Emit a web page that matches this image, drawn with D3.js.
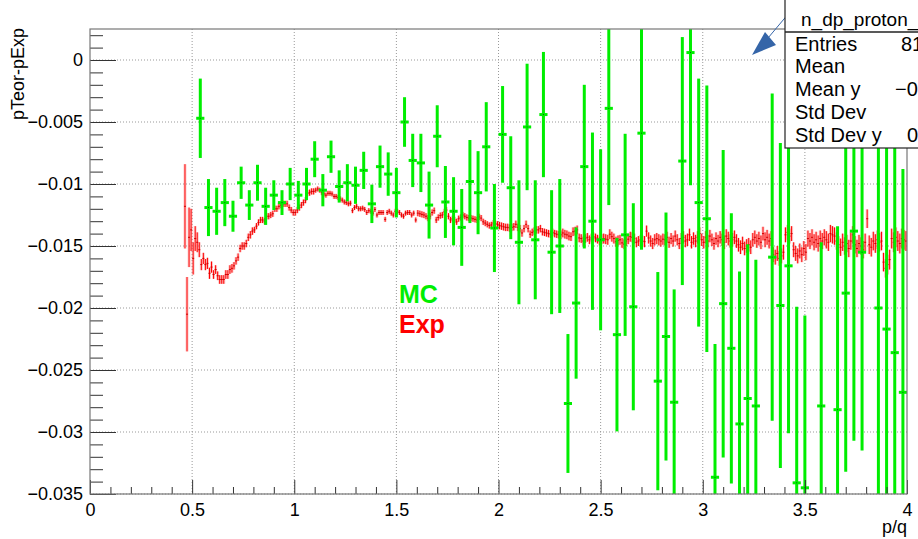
<!DOCTYPE html>
<html>
<head>
<meta charset="utf-8">
<script src="https://cdn.jsdelivr.net/npm/d3@7"></script>
<style>
  body { margin: 0; background: #fff; }
  svg { display: block; font-family: "Liberation Sans", Arial, Helvetica, sans-serif; }
</style>
</head>
<body>
<div id="graf"></div>
<script>
// ---- datos (valores en unidades de 1e-3) ----
const xTicks = [0, 0.5, 1, 1.5, 2, 2.5, 3, 3.5, 4]
const yTicks = [0, -0.005, -0.01, -0.015, -0.02, -0.025, -0.03, -0.035]

// MC: bins de 0.04 empezando en 0.54
const mcFirst = 0.54
const mcBin = 0.04
const mcVal = [
  -4.7, -11.9, -12.2, -11.5, -12.6, -9.9, -11.7, -9.9, -11.8, -10.9,
  -11.5, -10.0, -10.9, -10.0, -8.0, -10.5, -7.8, -10.2, -9.9, -10.1,
  -8.9, -11.6, -8.6, -9.2, -10.7, -5.0, -8.1, -8.3, -11.7, -6.15,
  -11.45, -12.2, -13.5, -9.8, -10.7, -7.0, -13.55, -6.0, -10.3, -14.7,
  -5.4, -14.5, -4.4, -15.5, -15.0, -27.7, -19.6, -8.6, -13.0, -14.5,
  -3.9, -22.15, -14.1, -19.9, -5.9, null, -25.9, -22.3, -27.6, -8.15,
  0.6, -11.5, -12.8, -33.65, -19.65, -23.25, -29.35, -27.3, -27.9, null,
  -15.9, -19.8, -16.6, -34.1, -34.5, null, -27.9, null, -28.2, -18.8,
  -13.8, -15.5, null, -20.0, -21.7, -23.6, -26.8
]
const mcErr = [
  3.2, 2.3, 1.9, 1.9, 1.25, 1.3, 1.2, 1.45, 1.5, 1.2,
  1.0, 1.3, 1.15, 1.3, 1.45, 1.3, 1.3, 1.3, 1.5, 1.5,
  1.5, 1.55, 1.7, 1.75, 2.0, 2.0, 2.15, 2.35, 2.7, 2.5,
  2.9, 2.75, 3.1, 3.35, 3.35, 3.6, 3.55, 3.9, 4.15, 5.0,
  5.1, 4.8, 5.05, 5.0, 5.4, 5.6, 6.1, 6.6, 7.15, 7.3,
  7.8, 7.8, 8.15, 8.35, 9.4, 0, 8.8, 10.0, 9.1, 10.0,
  10.7, 10.0, 10.75, 10.75, 12.4, 10.9, 12.3, 12.45, 11.8, 0,
  13.2, 13.1, 13.5, 14.2, 13.9, 0, 13.2, 0, 14.8, 14.4,
  16.9, 16.0, 0, 17.0, 17.5, 18.0, 18.0
]

// Exp: bins de 0.01 empezando en 0.465
const expFirst = 0.465
const expBin = 0.01
const expVal = [
  -11.8, -20.5, -14.3, -13.7, -16.0, -14.4, -14.7, -15.3, -16.5, -16.0,
  -16.5, -16.4, -17.2, -16.7, -17.3, -16.9, -17.4, -17.7, -17.7, -17.7,
  -17.3, -17.3, -16.9, -16.8, -16.6, -16.2, -15.9, -15.2, -15.0, -15.0,
  -14.8, -14.3, -14.1, -13.8, -13.7, -13.4, -13.1, -12.9, -12.9, -13.0,
  -12.6, -12.6, -12.5, -12.4, -12.0, -12.0, -11.8, -11.7, -11.6, -11.6,
  -11.6, -11.9, -12.1, -12.3, -12.3, -12.1, -11.9, -11.7, -11.5, -11.3,
  -10.75, -10.7, -10.6, -10.6, -10.5, -10.4, -10.5, -10.7, -10.8, -10.9,
  -10.75, -10.75, -10.8, -11.0, -11.0, -11.1, -11.2, -11.3, -11.45, -11.5,
  -11.6, -11.55, -12.15, -11.9, -11.8, -12.0, -12.0, -11.95, -12.05, -12.3,
  -12.15, -12.2, -12.35, -12.05, -12.5, -12.3, -12.3, -12.3, -12.85, -12.3,
  -12.2, -12.35, -12.5, -12.2, -12.2, -12.3, -12.5, -12.6, -12.35, -12.3,
  -12.3, -12.5, -12.35, -12.9, -12.35, -12.4, -12.45, -12.5, -12.6, -12.75,
  -12.6, -12.3, -12.15, -12.9, -12.7, -12.55, -12.5, -12.25, -12.1, -12.6,
  -12.9, -12.8, -12.9, -13.05, -12.8, -12.7, -12.5, -12.6, -12.7, -12.75,
  -12.75, -12.8, -12.85, -12.9, -12.65, -12.75, -13.05, -13.15, -13.25, -13.35,
  -13.3, -13.15, -13.2, -13.25, -13.35, -13.4, -13.45, -13.5, -13.5, -13.55,
  -13.5, -13.45, -13.25, -13.5, -13.6, -13.95, -13.6, -13.25, -13.6, -14.05,
  -13.9, -13.8, -13.7, -13.7, -13.6, -13.85, -13.9, -13.95, -14.0, -14.05,
  -13.9, -14.0, -14.05, -14.1, -14.1, -13.95, -14.05, -14.1, -14.2, -14.25,
  -13.85, -13.8, -13.7, -14.35, -14.4, -14.6, -14.4, -14.3, -14.5, -14.35,
  -14.25, -14.35, -14.45, -14.6, -14.45, -14.4, -14.45, -14.5, -14.05, -14.25,
  -14.4, -14.65, -14.55, -14.5, -14.75, -14.85, -14.6, -14.45, -14.25, -14.3,
  -14.4, -14.7, -14.6, -14.5, -14.6, -14.65, -13.8, -14.35, -14.6, -14.8,
  -14.5, -14.4, -14.5, -14.6, -14.45,
  -14.5, -14.3, -14.7, -14.4, -14.6, -14.2, -14.5, -14.8, -14.4, -14.3,
  -14.6, -14.5, -14.1, -14.7, -14.4, -14.6, -14.3,
  -14.0, -14.5, -14.7, -14.3, -14.6, -14.2, -14.5, -14.8, -14.4, -14.6,
  -14.3, -14.5, -14.7, -14.2, -14.4, -14.6, -14.5, -14.3, -14.6,
  -14.9, -15.1, -14.8, -15.2, -15.0, -14.9, -15.1,
  -14.5, -14.3, -14.6, -14.4, -14.7, -14.0, -14.5, -14.3, -14.6, -14.4,
  -15.7, -15.9, -15.6, -16.0, -15.8, -15.5,
  -14.1, -13.9, -14.2, -14.0,
  -15.3, -15.6, -15.8, -15.4, -15.7, -15.2, -15.5,
  -14.4, -14.6, -14.3, -14.7, -14.5, -14.8, -14.4, -14.6, -14.3, -14.5, -14.7,
  -14.0, -14.1, -14.2,
  -14.6, -14.9, -15.1, -14.7, -15.0, -14.8, -15.2, -14.6,
  -14.1,
  -14.9, -15.2, -14.8, -15.0, -15.3, -14.7,
  -12.8,
  -14.9, -15.1, -14.6, -14.8, -14.5, -14.7, -14.6,
  -16.3, -16.8, -16.5, -16.1,
  -14.4, -14.7, -14.3, -14.6, -14.8, -14.4, -14.5, -14.6
]
// errores: primeros bins leidos uno a uno, luego por tramos de 0.1 desde 0.4
const expErrHead = [3.4, 3.0, 2.4, 1.7, 1.3, 1.0, 0.8, 0.6]
const expErrBand = [
  0.6, 0.45, 0.35, 0.3, 0.25, 0.25, 0.25, 0.2, 0.2, 0.2,
  0.2, 0.2, 0.25, 0.25, 0.25, 0.25, 0.3, 0.3, 0.3, 0.35,
  0.35, 0.4, 0.4, 0.45, 0.45, 0.5, 0.5, 0.55, 0.55, 0.6,
  0.6, 0.65, 0.7, 0.7, 0.75, 0.8
]

const statLabels = ["Entries", "Mean", "Mean y", "Std Dev", "Std Dev y"]
const statValues = ["81", "", "\u22120", "", "0"]
const statValueX = [901, 0, 895, 0, 907]

// ---- tamanos ----
const anchoTotal = 918
const altoTotal = 539
const margins = { top: 29, right: 11, bottom: 45, left: 90 }
const ancho = anchoTotal - margins.left - margins.right
const alto = altoTotal - margins.top - margins.bottom

const svg = d3.select("#graf")
  .append("svg")
  .attr("width", anchoTotal)
  .attr("height", altoTotal)

const g = svg.append("g")
  .attr("transform", `translate(${margins.left}, ${margins.top})`)

const x = d3.scaleLinear().domain([0, 4]).range([0, ancho])
const y = d3.scaleLinear().domain([-0.035, 0.0025]).range([alto, 0])

svg.append("defs").append("clipPath").attr("id", "frame")
  .append("rect").attr("width", ancho).attr("height", alto)

// grid punteado
g.append("g").selectAll("line").data(xTicks.slice(1, -1)).join("line")
  .attr("x1", d => x(d)).attr("x2", d => x(d))
  .attr("y1", 0).attr("y2", alto)
  .attr("stroke", "#999").attr("stroke-dasharray", "1,2")
g.append("g").selectAll("line").data(yTicks).join("line")
  .attr("x1", 0).attr("x2", ancho)
  .attr("y1", d => y(d)).attr("y2", d => y(d))
  .attr("stroke", "#999").attr("stroke-dasharray", "1,2")

const plot = g.append("g").attr("clip-path", "url(#frame)")

// Exp (rojo)
const exp = expVal.map((v, i) => {
  const px = expFirst + i * expBin
  const e = i < expErrHead.length ? expErrHead[i] : expErrBand[Math.floor(px * 10 + 1e-9) - 4]
  return { x: px, v: v / 1000, e: e / 1000 }
})
const expG = plot.append("g")
expG.selectAll("line.halo").data(exp).join("line")
  .attr("class", "halo")
  .attr("x1", d => x(d.x)).attr("x2", d => x(d.x))
  .attr("y1", d => y(d.v + d.e)).attr("y2", d => y(d.v - d.e))
  .attr("stroke", "rgba(245,110,110,0.35)").attr("stroke-width", 3)
expG.selectAll("line.err").data(exp).join("line")
  .attr("class", "err")
  .attr("x1", d => x(d.x)).attr("x2", d => x(d.x))
  .attr("y1", d => y(d.v + d.e)).attr("y2", d => y(d.v - d.e))
  .attr("stroke", "#ff0000").attr("stroke-width", 1)
expG.selectAll("line.bin").data(exp).join("line")
  .attr("class", "bin")
  .attr("x1", d => x(d.x - expBin / 2)).attr("x2", d => x(d.x + expBin / 2))
  .attr("y1", d => y(d.v)).attr("y2", d => y(d.v))
  .attr("stroke", "#d00000").attr("stroke-width", 1)

// MC (verde)
const mc = mcVal
  .map((v, i) => ({ x: mcFirst + i * mcBin, v: v === null ? null : v / 1000, e: mcErr[i] / 1000 }))
  .filter(d => d.v !== null)
const mcG = plot.append("g")
mcG.selectAll("line.err").data(mc).join("line")
  .attr("class", "err")
  .attr("x1", d => x(d.x)).attr("x2", d => x(d.x))
  .attr("y1", d => y(d.v + d.e)).attr("y2", d => y(d.v - d.e))
  .attr("stroke", "#00ee00").attr("stroke-width", 3)
mcG.selectAll("line.bin").data(mc).join("line")
  .attr("class", "bin")
  .attr("x1", d => x(d.x - mcBin / 2)).attr("x2", d => x(d.x + mcBin / 2))
  .attr("y1", d => y(d.v)).attr("y2", d => y(d.v))
  .attr("stroke", "#00ee00").attr("stroke-width", 3)
mcG.selectAll("rect").data(mc).join("rect")
  .attr("x", d => x(d.x) - 0.5).attr("y", d => y(d.v) - 0.5)
  .attr("width", 1).attr("height", 1).attr("fill", "#006600")

// ejes (ticks hacia dentro, estilo ROOT)
const fmt = d3.format("~g")
const xMinor = d3.range(0, 41).map(i => i / 10).filter(d => !xTicks.some(t => Math.abs(t - d) < 1e-9))
const yMinor = d3.range(-35, 3).map(i => i / 1000).filter(d => !yTicks.some(t => Math.abs(t - d) < 1e-9))

const xAxisGroup = g.append("g")
  .attr("transform", `translate(0, ${alto})`)
  .call(d3.axisBottom(x).tickValues(xTicks).tickFormat(fmt).tickSize(-14).tickPadding(9))
g.append("g")
  .attr("transform", `translate(0, ${alto})`)
  .call(d3.axisBottom(x).tickValues(xMinor).tickFormat("").tickSize(-7))
const yAxisGroup = g.append("g")
  .call(d3.axisLeft(y).tickValues(yTicks).tickFormat(fmt).tickSize(-26).tickPadding(7))
g.append("g")
  .call(d3.axisLeft(y).tickValues(yMinor).tickFormat("").tickSize(-13))

g.selectAll(".domain").remove()
g.selectAll(".tick line").attr("stroke", "#333")
g.selectAll(".tick text")
  .attr("font-family", "'Liberation Sans', Arial, Helvetica, sans-serif")
  .attr("font-size", 18).attr("fill", "#000")

// marco
g.append("rect")
  .attr("width", ancho).attr("height", alto)
  .attr("fill", "none").attr("stroke", "#777").attr("stroke-width", 1.2)

// titulos de ejes
svg.append("text")
  .attr("transform", `translate(24, 28) rotate(-90)`)
  .attr("text-anchor", "end")
  .attr("font-size", 18)
  .text("pTeor-pExp")
svg.append("text")
  .attr("x", margins.left + ancho).attr("y", 533)
  .attr("text-anchor", "end")
  .attr("font-size", 18)
  .text("p/q")

// leyenda
svg.append("text").attr("x", 399).attr("y", 303)
  .attr("font-size", 25).attr("font-weight", "bold").attr("fill", "#00ee00").text("MC")
svg.append("text").attr("x", 399).attr("y", 333)
  .attr("font-size", 25).attr("font-weight", "bold").attr("fill", "#ff0000").text("Exp")

// flecha
svg.append("line")
  .attr("x1", 800).attr("y1", 0).attr("x2", 768).attr("y2", 38)
  .attr("stroke", "#3565a8").attr("stroke-width", 1)
svg.append("path")
  .attr("d", "M752,55 L765,32 L776,45 Z")
  .attr("fill", "#3565a8")

// caja de estadisticas
const stats = svg.append("g")
stats.append("rect")
  .attr("x", 785).attr("y", -20).attr("width", 200).attr("height", 168)
  .attr("fill", "#fff").attr("stroke", "#222").attr("stroke-width", 1.2)
stats.append("line")
  .attr("x1", 785).attr("x2", 985).attr("y1", 32).attr("y2", 32)
  .attr("stroke", "#222").attr("stroke-width", 1.5)
stats.append("text")
  .attr("x", 801).attr("y", 26).attr("font-size", 19)
  .text("n_dp_proton_")
stats.selectAll("text.lab").data(statLabels).join("text")
  .attr("class", "lab")
  .attr("x", 795).attr("y", (d, i) => 50.5 + i * 22.8)
  .attr("font-size", 20)
  .text(d => d)
stats.selectAll("text.val").data(statValues).join("text")
  .attr("class", "val")
  .attr("x", (d, i) => statValueX[i]).attr("y", (d, i) => 50.5 + i * 22.8)
  .attr("font-size", 20)
  .text(d => d)
</script>
</body>
</html>
